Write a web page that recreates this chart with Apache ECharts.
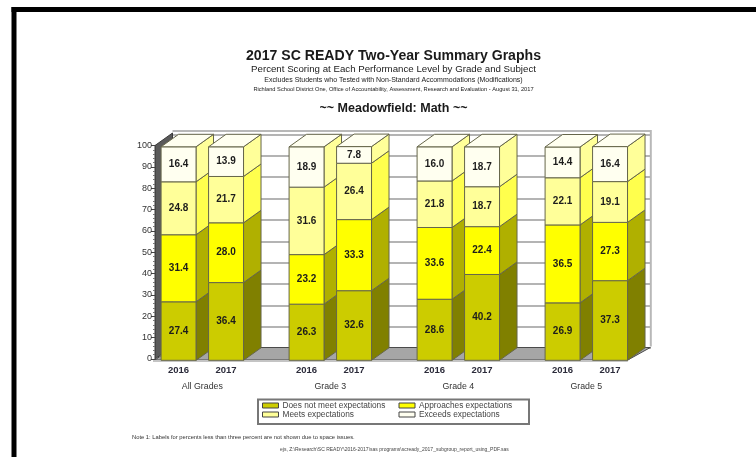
<!DOCTYPE html>
<html>
<head>
<meta charset="utf-8">
<style>
  html, body { margin: 0; padding: 0; background: #fff; }
  #main { width: 756px; height: 457px; filter: blur(0.45px); }
</style>
<script src="https://cdn.jsdelivr.net/npm/echarts@6/dist/echarts.min.js"></script>
</head>
<body>
<div id="main"></div>
<script>
const groups = ['All Grades', 'Grade 3', 'Grade 4', 'Grade 5'];
const years = ['2016', '2017'];
const levels = ['Does not meet expectations', 'Approaches expectations', 'Meets expectations', 'Exceeds expectations'];

// order: All Grades 2016, 2017, Grade 3 2016, 2017, Grade 4 ..., Grade 5 ...
const doesNotMeet = [27.4, 36.4, 26.3, 32.6, 28.6, 40.2, 26.9, 37.3];
const approaches = [31.4, 28.0, 23.2, 33.3, 33.6, 22.4, 36.5, 27.3];
const meets = [24.8, 21.7, 31.6, 26.4, 21.8, 18.7, 22.1, 19.1];
const exceeds = [16.4, 13.9, 18.9, 7.8, 16.0, 18.7, 14.4, 16.4];
const levelValues = [doesNotMeet, approaches, meets, exceeds];

const frontColors = ['#cccc00', '#ffff00', '#ffff99', '#fffff0'];
const sideColors = ['#808000', '#b0b000', '#ffff4d', '#ffff99'];
const edge = '#66664a';

const depthX = 17.5;
const depthY = 12.5;
const wallLeft = 16.7; // front of the left wall, from the left of the grid
const barDrop = 1.3;   // bars sit a little under the axis in the original

function quad(points, fill, z2) {
  return {
    type: 'polygon',
    z2: z2,
    shape: { points: points },
    style: { fill: fill, stroke: edge, lineWidth: 1 }
  };
}

function renderBar(level) {
  return function (params, api) {
    const group = api.value(0);
    const year = api.value(1);
    const base = api.value(2);
    const value = api.value(3);
    const band = api.size([1, 0])[0];
    const dodge = band * 0.371;
    const width = band * 0.273;
    const xc = api.coord([group, 0])[0] + (year - 0.5) * dodge;
    const x0 = xc - width / 2;
    const x1 = xc + width / 2;
    const y0 = api.coord([group, base])[1] + barDrop;
    const y1 = api.coord([group, base + value])[1] + barDrop;
    const z = (group * 2 + year) * 10 + level;
    const children = [
      quad([[x1, y0], [x1 + depthX, y0 - depthY], [x1 + depthX, y1 - depthY], [x1, y1]], sideColors[level], z),
      quad([[x0, y0], [x1, y0], [x1, y1], [x0, y1]], frontColors[level], z)
    ];
    if (level === levels.length - 1) {
      children.push(quad([[x0, y1], [x1, y1], [x1 + depthX, y1 - depthY], [x0 + depthX, y1 - depthY]], frontColors[level], z));
    }
    children.push({
      type: 'text',
      z2: z + 5,
      style: {
        x: xc,
        y: (y0 + y1) / 2,
        text: value.toFixed(1),
        align: 'center',
        verticalAlign: 'middle',
        fill: '#1c1c1c',
        font: 'bold 10px "Liberation Sans", Arial, sans-serif'
      }
    });
    return { type: 'group', children: children };
  };
}

// left wall and floor of the 3d box
function renderWalls(params, api) {
  const box = params.coordSys;
  const xl = box.x + wallLeft;
  const xr = box.x + box.width - depthX - 5;
  const top = box.y;
  const bottom = box.y + box.height;
  return {
    type: 'group',
    children: [
      {
        type: 'polygon',
        shape: { points: [[xl, bottom + 1], [xr, bottom + 1], [xr + depthX + 5, bottom - depthY + 1], [xl + depthX, bottom - depthY + 1]] },
        style: { fill: '#a6a6a6', stroke: '#4a4a4a', lineWidth: 1 }
      },
      {
        type: 'line',
        shape: { x1: xl - 2, y1: bottom + 2, x2: xr, y2: bottom + 2 },
        style: { stroke: '#c4c4c4', lineWidth: 2 }
      },
      {
        type: 'polygon',
        shape: { points: [[xl, top], [xl + depthX, top - depthY], [xl + depthX, bottom - depthY], [xl, bottom]] },
        style: { fill: '#5a5a5a', stroke: '#3a3a3a', lineWidth: 1 }
      },
      {
        type: 'polyline',
        shape: { points: [[xl + depthX, top - depthY - 2], [box.x + box.width + 0.5, top - depthY - 2], [box.x + box.width + 0.5, bottom - depthY]] },
        style: { stroke: '#b8b8b8', lineWidth: 2, fill: null }
      }
    ]
  };
}

const barSeries = levels.map(function (name, level) {
  const data = levelValues[level].map(function (v, i) {
    let base = 0;
    for (let k = 0; k < level; k++) base += levelValues[k][i];
    return [Math.floor(i / years.length), i % years.length, base, v];
  });
  return {
    name: name,
    type: 'custom',
    silent: true,
    z: 3,
    xAxisIndex: 0,
    yAxisIndex: 0,
    itemStyle: { color: frontColors[level] },
    renderItem: renderBar(level),
    data: data
  };
});

const sans = '"Liberation Sans", Arial, sans-serif';

function titleLine(text, top, size, weight) {
  return {
    text: text,
    left: 393.5,
    top: top,
    textAlign: 'center',
    padding: 0,
    textStyle: { fontFamily: sans, fontSize: size, fontWeight: weight, color: '#1a1a1a' }
  };
}

function legendRow(names, top) {
  return {
    data: names,
    left: 262,
    top: top,
    padding: 0,
    orient: 'horizontal',
    itemGap: 6,
    itemWidth: 16,
    itemHeight: 5,
    icon: 'rect',
    selectedMode: false,
    itemStyle: { borderColor: '#444', borderWidth: 1 },
    textStyle: { fontFamily: sans, fontSize: 8.3, color: '#444', width: 110, height: 9, lineHeight: 9, padding: [0, 0, 0, -1] }
  };
}

const chart = echarts.init(document.getElementById('main'), null, { renderer: 'canvas' });
chart.setOption({
  backgroundColor: '#fff',
  animation: false,
  title: [
    titleLine('2017 SC READY Two-Year Summary Graphs', 49, 14.1, 'bold'),
    titleLine('Percent Scoring at Each Performance Level by Grade and Subject', 64.5, 9.7, 'normal'),
    titleLine('Excludes Students who Tested with Non-Standard Accommodations (Modifications)', 76.5, 7, 'normal'),
    titleLine('Richland School District One, Office of Accountability, Assessment, Research and Evaluation - August 31, 2017', 86, 5.7, 'normal'),
    titleLine('~~ Meadowfield: Math ~~', 102, 12.5, 'bold'),
    {
      text: 'Note 1: Labels for percents less than three percent are not shown due to space issues.',
      left: 132, top: 434, padding: 0,
      textStyle: { fontFamily: sans, fontSize: 5.8, fontWeight: 'normal', color: '#333' }
    },
    {
      text: 'ejs, Z:\\Research\\SC READY\\2016-2017\\sas programs\\scready_2017_subgroup_report_using_PDF.sas',
      left: 280, top: 447.5, padding: 0,
      textStyle: { fontFamily: sans, fontSize: 5, fontWeight: 'normal', color: '#444' }
    }
  ],
  legend: [
    legendRow(levels.slice(0, 2), 401),
    legendRow(levels.slice(2, 4), 410)
  ],
  graphic: [
    { type: 'rect', shape: { x: 11.5, y: 7, width: 745, height: 5 }, style: { fill: '#000' } },
    { type: 'rect', shape: { x: 11.5, y: 7, width: 5, height: 450 }, style: { fill: '#000' } },
    { type: 'rect', shape: { x: 258, y: 399.5, width: 271, height: 24.5 }, style: { fill: '#fff', stroke: '#777', lineWidth: 2 }, z: -1 }
  ],
  grid: [
    { left: 138.3, top: 145.5, width: 512, height: 213.5 },
    { left: 173, top: 134.5, width: 478, height: 213.5 }
  ],
  xAxis: [
    {
      type: 'category',
      gridIndex: 0,
      data: groups,
      axisLine: { show: false },
      axisTick: { show: false },
      axisLabel: {
        interval: 0,
        margin: 3,
        formatter: function (name) {
          return years.map(function (y) { return '{y|' + y + '}'; }).join('') + '\n{g|' + name + '}';
        },
        rich: {
          y: { width: 47.5, align: 'center', fontFamily: sans, fontSize: 9.5, fontWeight: 'bold', color: '#2b2b3a', lineHeight: 16 },
          g: { fontFamily: sans, fontSize: 8.8, color: '#333', lineHeight: 17.5 }
        }
      }
    },
    { type: 'category', gridIndex: 1, data: groups, show: false }
  ],
  yAxis: [
    {
      type: 'value',
      gridIndex: 0,
      min: 0,
      max: 100,
      interval: 10,
      offset: -wallLeft,
      z: 4,
      axisLine: { show: true, lineStyle: { color: '#444', width: 1 } },
      axisTick: { show: true, length: 4, lineStyle: { color: '#444' } },
      minorTick: { show: true, splitNumber: 5, length: 2, lineStyle: { color: '#777' } },
      axisLabel: { margin: 3, fontFamily: sans, fontSize: 9, color: '#333', showMinLabel: true, showMaxLabel: true },
      splitLine: { show: false }
    },
    {
      type: 'value',
      gridIndex: 1,
      min: 0,
      max: 100,
      interval: 10,
      axisLine: { show: false },
      axisTick: { show: false },
      axisLabel: { show: false },
      splitLine: { show: true, lineStyle: { color: '#b4b4b4', width: 2 } }
    }
  ],
  series: [
    {
      type: 'custom',
      silent: true,
      z: 1,
      xAxisIndex: 0,
      yAxisIndex: 0,
      renderItem: renderWalls,
      data: [[0, 0]]
    }
  ].concat(barSeries)
});
</script>
</body>
</html>
